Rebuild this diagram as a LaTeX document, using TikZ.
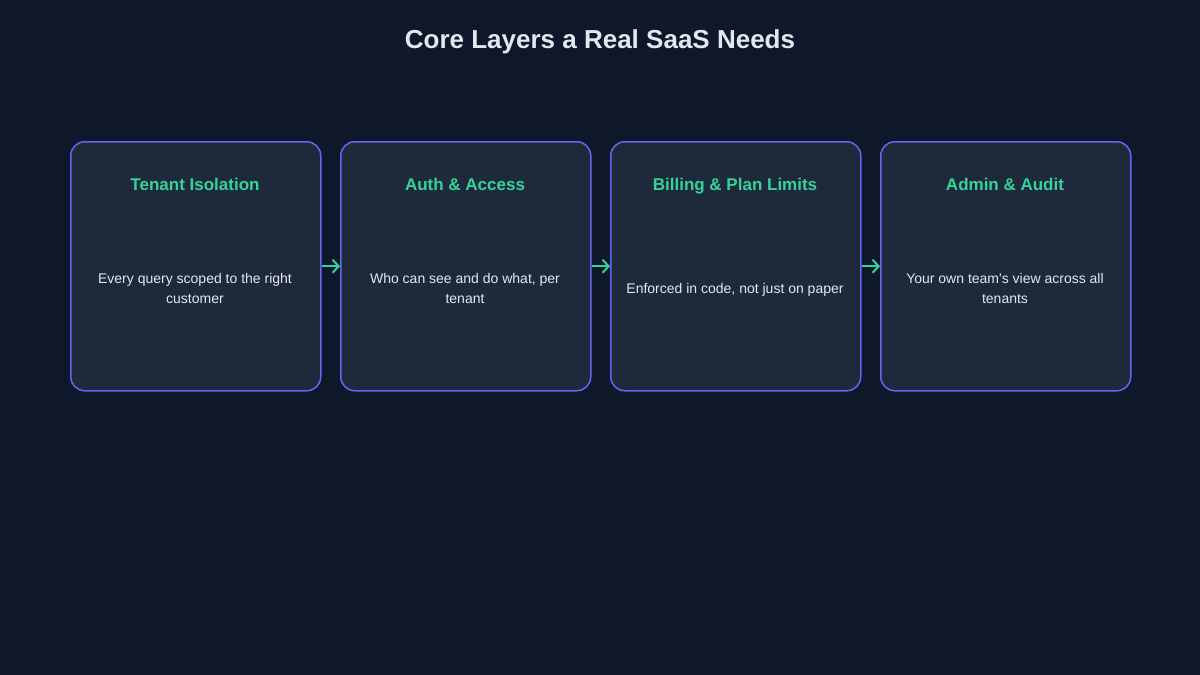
\documentclass[tikz,border=0pt]{standalone}
\usepackage{fontspec}
\setmainfont{Liberation Sans}[Ligatures=TeXOff]
\usetikzlibrary{arrows.meta}
\definecolor{bg}{HTML}{0F172A}
\definecolor{boxfill}{HTML}{1E293B}
\definecolor{boxline}{HTML}{6366F1}
\definecolor{accent}{HTML}{34D399}
\definecolor{txt}{HTML}{E2E8F0}
\tikzset{
  layerbox/.style={draw=boxline, fill=boxfill, line width=1.5pt, rounded corners=14pt,
    minimum width=250pt, minimum height=249pt, anchor=north west, inner sep=0pt},
  headtxt/.style={text=accent, font=\fontsize{17}{20}\selectfont\bfseries, anchor=base},
  bodytxt/.style={text=txt, font=\fontsize{14}{20}\selectfont, align=center},
  flow/.style={draw=accent, line width=2pt, -{Straight Barb[length=6pt,width=13pt,line width=2pt]}},
}
\begin{document}
\begin{tikzpicture}[x=1pt,y=-1pt]
\fill[bg] (0,0) rectangle (1200,675);
\useasboundingbox (0,0) rectangle (1200,675);
\node[text=txt, font=\fontsize{26}{30}\selectfont\bfseries] (title) at (600,42) {Core Layers a Real SaaS Needs};

\node[layerbox] (b1) at (70,141) {};
\node[layerbox] (b2) at (340,141) {};
\node[layerbox] (b3) at (610,141) {};
\node[layerbox] (b4) at (880,141) {};

\node[headtxt] (h1) at (195,190) {Tenant Isolation};
\node[headtxt] (h2) at (465,190) {Auth \& Access};
\node[headtxt] (h3) at (735,190) {Billing \& Plan Limits};
\node[headtxt] (h4) at (1005,190) {Admin \& Audit};

\node[bodytxt] (t1) at (195,288) {Every query scoped to the right\\customer};
\node[bodytxt] (t2) at (465,288) {Who can see and do what, per\\tenant};
\node[bodytxt, anchor=base] (t3) at (735,293) {Enforced in code, not just on paper};
\node[bodytxt] (t4) at (1005,288) {Your own team's view across all\\tenants};

\draw[flow] (b1.east) -- (b2.west);
\draw[flow] (b2.east) -- (b3.west);
\draw[flow] (b3.east) -- (b4.west);
\end{tikzpicture}
\end{document}
